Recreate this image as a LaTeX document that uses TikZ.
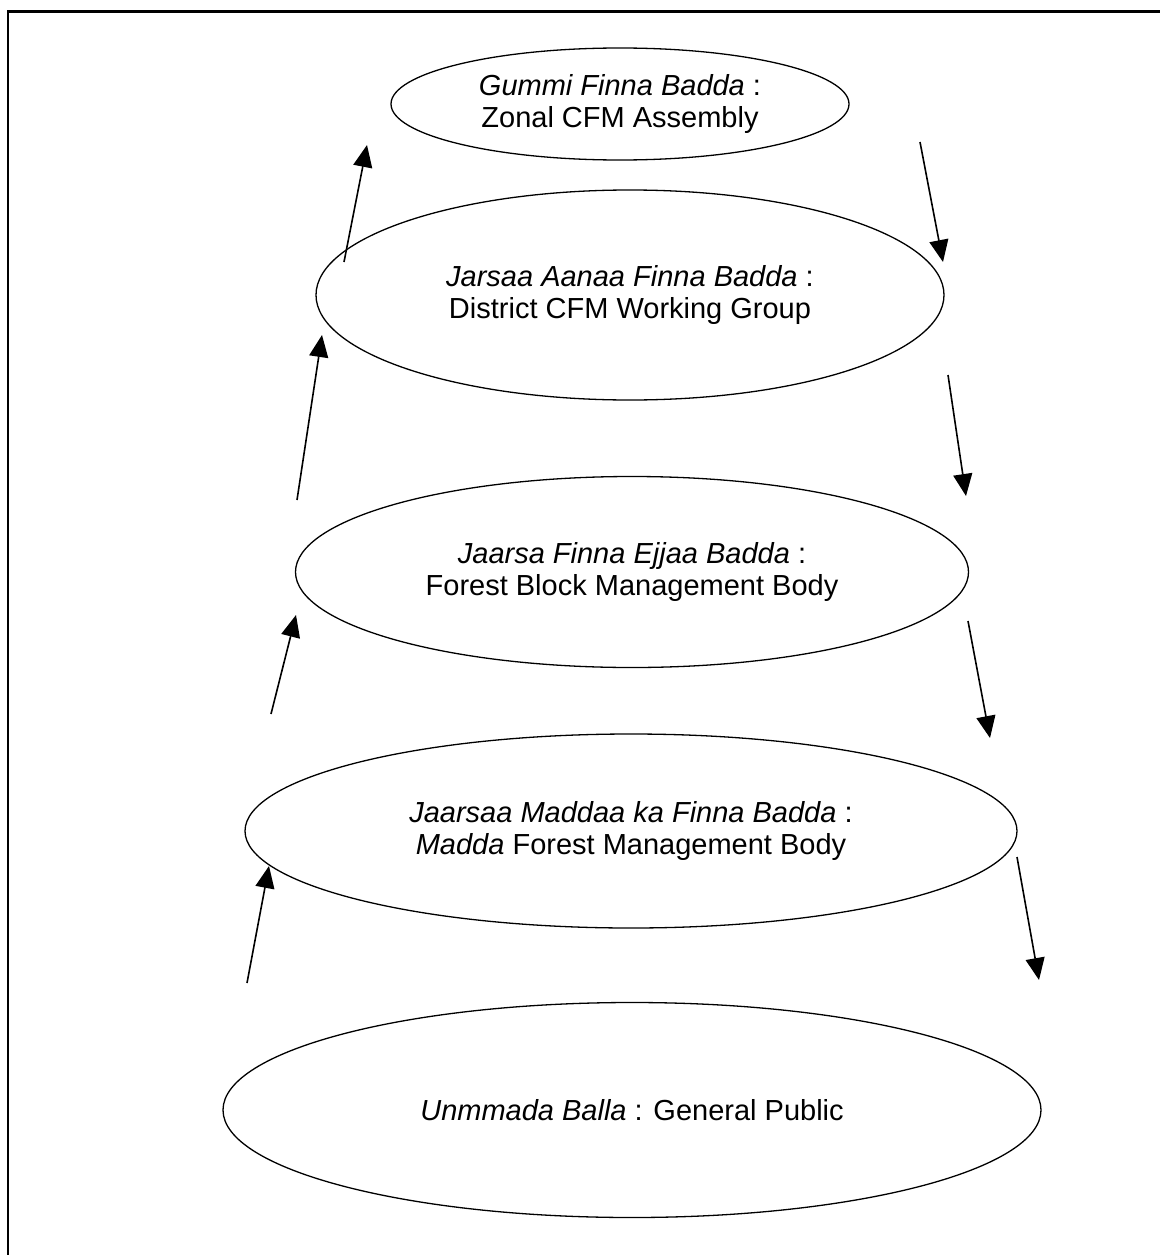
\documentclass[tikz,border=0pt]{standalone}
\usepackage{fontspec}
\setmainfont{Liberation Sans}
\usetikzlibrary{shapes.geometric,arrows.meta}
\tikzset{
  level/.style={draw, ellipse, line width=1.3pt, inner sep=0pt, align=center,
    font=\fontsize{29}{32.5}\selectfont},
  flow/.style={line width=1.6pt, -{Triangle[length=22pt,width=19pt]}},
  frame/.style={line width=2.2pt}
}
\begin{document}
\begin{tikzpicture}[x=1pt,y=-1pt]
\useasboundingbox (0,0) rectangle (1159,1255);
\coordinate (ftr) at (1160,11.5);
\coordinate (ftl) at (8,11.5);
\coordinate (fbl) at (8,1256);
\draw[frame] (ftr) -- (ftl) -- (fbl);

\node[level, minimum width=458pt, minimum height=112pt] (e1) at (620,104)
  {\textit{Gummi Finna Badda} :\\Zonal CFM Assembly};
\node[level, minimum width=628pt, minimum height=210pt] (e2) at (630,295)
  {\textit{Jarsaa Aanaa Finna Badda} :\\District CFM Working Group};
\node[level, minimum width=673pt, minimum height=191pt] (e3) at (632,572)
  {\textit{Jaarsa Finna Ejjaa Badda} :\\Forest Block Management Body};
\node[level, minimum width=772pt, minimum height=194pt] (e4) at (631,831)
  {\textit{Jaarsaa Maddaa ka Finna Badda} :\\\textit{Madda} Forest Management Body};
\node[level, minimum width=818pt, minimum height=215pt] (e5) at (632,1110)
  {\textit{Unmmada Balla} : General Public};

% upward arrows (left side)
\coordinate (l1a) at (344,262); \coordinate (l1b) at (367,145);
\coordinate (l2a) at (297,500); \coordinate (l2b) at (322,335);
\coordinate (l3a) at (271,714); \coordinate (l3b) at (296,615);
\coordinate (l4a) at (247,983); \coordinate (l4b) at (269,866);
% downward arrows (right side)
\coordinate (r1a) at (920,142); \coordinate (r1b) at (943,262);
\coordinate (r2a) at (948,375); \coordinate (r2b) at (966,496);
\coordinate (r3a) at (968,621); \coordinate (r3b) at (990,738);
\coordinate (r4a) at (1017,857); \coordinate (r4b) at (1039,980);

\draw[flow] (l1a) -- (l1b);
\draw[flow] (l2a) -- (l2b);
\draw[flow] (l3a) -- (l3b);
\draw[flow] (l4a) -- (l4b);
\draw[flow] (r1a) -- (r1b);
\draw[flow] (r2a) -- (r2b);
\draw[flow] (r3a) -- (r3b);
\draw[flow] (r4a) -- (r4b);
\end{tikzpicture}
\end{document}
